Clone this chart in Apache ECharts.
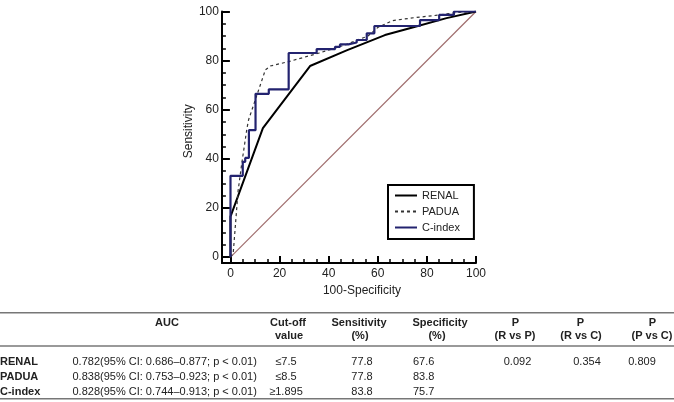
<!DOCTYPE html>
<html><head><meta charset="utf-8">
<script src="https://cdn.jsdelivr.net/npm/echarts@6/dist/echarts.min.js"></script>
<style>html,body{margin:0;padding:0;background:#fff}#c{width:674px;height:402px}</style>
</head><body><div id="c"></div>
<script>
const FONT = '"Liberation Sans", Arial, Helvetica, sans-serif';

// ROC curves: x = 100-Specificity, y = Sensitivity
const renalX = [0, 0, 13.2, 32.4, 47.3, 62.9, 74.5, 88, 100];
const renalY = [0, 16.5, 52.5, 77.8, 84.2, 90.4, 93.6, 97.3, 100];

const paduaX = [0, 1.1, 2.0, 3.1, 4.6, 6.7, 7.4, 10.1, 14.2, 16.2, 23.7, 35.8, 47, 52.7, 56, 60, 66, 75, 85.3, 92, 100];
const paduaY = [0, 1.5, 13, 27, 38.2, 52.4, 56, 64, 76.2, 77.8, 79.6, 83, 86.5, 88.8, 90, 93.5, 96.3, 97.5, 98.6, 99.6, 100];

const cindexX = [0, 0, 5.0, 5.0, 6.0, 6.0, 7.5, 7.5, 10.2, 10.2, 15.6, 15.6, 23.7, 23.7, 35.1, 35.1, 42.6, 42.6, 44.6, 44.6, 48.0, 48.0, 51.4, 51.4, 55.5, 55.5, 58.6, 58.6, 77.2, 77.2, 85.0, 85.0, 91.0, 91.0, 100];
const cindexY = [0, 33.1, 33.1, 38.8, 38.8, 40.4, 40.4, 51.7, 51.7, 66.5, 66.5, 68.3, 68.3, 83.1, 83.1, 84.7, 84.7, 85.6, 85.6, 86.6, 86.6, 87.4, 87.4, 88.4, 88.4, 91.1, 91.1, 94.1, 94.1, 96.5, 96.5, 98.6, 98.6, 100, 100];

const refX = [0, 100];
const refY = [0, 100];

const majorTicks = [0, 20, 40, 60, 80, 100];
const minorTicks = [5, 10, 15, 25, 30, 35, 45, 50, 55, 65, 70, 75, 85, 90, 95];

const seriesNames = ['RENAL', 'PADUA', 'C-index'];

// Table
const tableRows = ['RENAL', 'PADUA', 'C-index'];
const aucText = ['0.782(95% CI: 0.686\u20130.877; p < 0.01)', '0.838(95% CI: 0.753\u20130.923; p < 0.01)', '0.828(95% CI: 0.744\u20130.913; p < 0.01)'];
const cutoffText = ['\u22647.5', '\u22648.5', '\u22651.895'];
const sensText = ['77.8', '77.8', '83.8'];
const specText = ['67.6', '83.8', '75.7'];
const pRvsP = ['0.092', '', ''];
const pRvsC = ['0.354', '', ''];
const pPvsC = ['0.809', '', ''];

const zip = (xs, ys) => xs.map((x, i) => [x, ys[i]]);

const chart = echarts.init(document.getElementById('c'), null, {renderer: 'canvas'});

const axisCommon = (min) => ({
  type: 'value', min: min, max: 100,
  splitLine: {show: false}
});

const xMajor = Object.assign(axisCommon(-3.5), {
  position: 'bottom',
  axisLine: {show: true, onZero: false, lineStyle: {color: '#000', width: 2}},
  axisTick: {show: true, inside: true, length: 7, customValues: majorTicks, lineStyle: {color: '#000', width: 2}},
  axisLabel: {show: true, customValues: majorTicks, margin: 5, fontSize: 12, color: '#222', fontFamily: FONT},
  name: '100-Specificity', nameLocation: 'middle', nameGap: 22,
  nameTextStyle: {fontSize: 12, color: '#222', fontFamily: FONT, padding: [0, 0, 0, 26]}
});
const xMinor = Object.assign(axisCommon(-3.5), {
  position: 'bottom',
  axisLine: {show: false, onZero: false},
  axisTick: {show: true, inside: true, length: 4, customValues: minorTicks, lineStyle: {color: '#000', width: 1.5}},
  axisLabel: {show: false}
});
const yMajor = Object.assign(axisCommon(-2.4), {
  position: 'left',
  axisLine: {show: true, onZero: false, lineStyle: {color: '#000', width: 2}},
  axisTick: {show: true, inside: true, length: 8, customValues: majorTicks, lineStyle: {color: '#000', width: 2}},
  axisLabel: {show: true, customValues: majorTicks, margin: 3, fontSize: 12, color: '#222', fontFamily: FONT},
  name: 'Sensitivity', nameLocation: 'middle', nameGap: 22,
  nameTextStyle: {fontSize: 12, color: '#222', fontFamily: FONT, padding: [0, 0, 0, 12]}
});
const yMinor = Object.assign(axisCommon(-2.4), {
  position: 'left',
  axisLine: {show: false, onZero: false},
  axisTick: {show: true, inside: true, length: 4, customValues: minorTicks, lineStyle: {color: '#000', width: 1.5}},
  axisLabel: {show: false}
});

// table graphics
const gray = '#222';
const g = [];
const txt = (text, x, y, align, bold) => g.push({
  type: 'text', silent: true,
  style: {text: text, x: x, y: y, align: align, verticalAlign: 'middle',
    font: (bold ? 'bold ' : '') + '11px ' + FONT, fill: gray}
});
const hline = (y) => g.push({type: 'line', silent: true,
  shape: {x1: 0, y1: y, x2: 674, y2: y}, style: {stroke: '#777', lineWidth: 1.5}});

hline(312.7); hline(346); hline(398.7);
const h1 = 323, h2 = 336;
txt('AUC', 167, h1, 'center', true);
txt('Cut-off', 288, h1, 'center', true); txt('value', 289, h2, 'center', true);
txt('Sensitivity', 359, h1, 'center', true); txt('(%)', 360, h2, 'center', true);
txt('Specificity', 440, h1, 'center', true); txt('(%)', 437, h2, 'center', true);
txt('P', 515.5, h1, 'center', true); txt('(R vs P)', 515, h2, 'center', true);
txt('P', 580.5, h1, 'center', true); txt('(R vs C)', 581, h2, 'center', true);
txt('P', 652.5, h1, 'center', true); txt('(P vs C)', 652, h2, 'center', true);
const rowY = [362, 377, 392];
tableRows.forEach((r, i) => {
  const y = rowY[i];
  txt(r, 0, y, 'left', true);
  txt(aucText[i], 72.5, y, 'left', false);
  txt(cutoffText[i], 286, y, 'center', false);
  txt(sensText[i], 362, y, 'center', false);
  txt(specText[i], 413, y, 'left', false);
  if (pRvsP[i]) txt(pRvsP[i], 517.5, y, 'center', false);
  if (pRvsC[i]) txt(pRvsC[i], 587, y, 'center', false);
  if (pPvsC[i]) txt(pPvsC[i], 642, y, 'center', false);
});

const option = {
  animation: false,
  backgroundColor: '#fff',
  grid: {left: 221.9, right: 198, top: 11.5, bottom: 139},
  xAxis: [xMajor, xMinor],
  yAxis: [yMajor, yMinor],
  legend: {
    data: seriesNames, orient: 'vertical', left: 388, top: 185,
    padding: [5, 14, 6, 6], itemGap: 5, itemWidth: 22, itemHeight: 12,
    borderColor: '#000', borderWidth: 2, borderRadius: 0,
    itemStyle: {opacity: 0},
    textStyle: {fontSize: 11, color: '#222', fontFamily: FONT},
    selectedMode: false
  },
  series: [
    {name: 'ref', type: 'line', data: zip(refX, refY), symbol: 'none', silent: true,
      lineStyle: {color: '#a06e6e', width: 1.2}, z: 1},
    {name: 'RENAL', type: 'line', data: zip(renalX, renalY), symbol: 'none',
      lineStyle: {color: '#000', width: 2}, itemStyle: {color: '#000'}, z: 2},
    {name: 'PADUA', type: 'line', data: zip(paduaX, paduaY), symbol: 'none',
      lineStyle: {color: '#333', width: 1.2, type: [3, 3]}, itemStyle: {color: '#333'}, z: 3},
    {name: 'C-index', type: 'line', data: zip(cindexX, cindexY), symbol: 'none',
      lineStyle: {color: '#23236f', width: 2.2}, itemStyle: {color: '#23236f'}, z: 4}
  ],
  graphic: g
};
chart.setOption(option);
</script></body></html>
